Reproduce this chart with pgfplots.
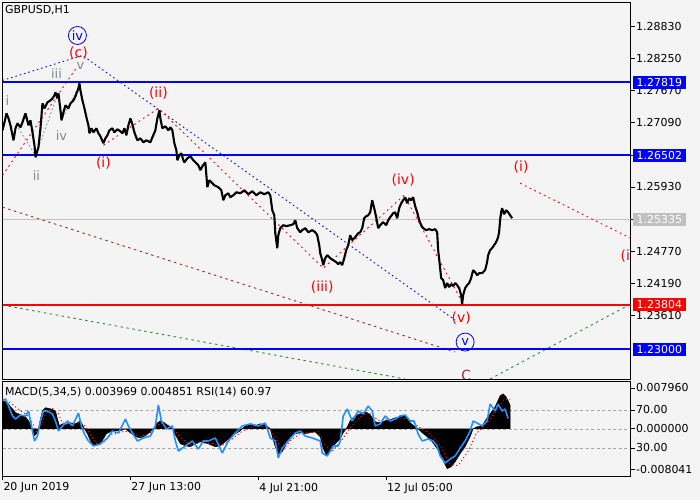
\documentclass[border=0pt]{standalone}
\usepackage{pgfplots}
\pgfplotsset{compat=1.18}
\usepackage{fontspec}
\setmainfont{DejaVu Sans}
\definecolor{bg}{HTML}{F4F4F4}
\definecolor{mtblue}{RGB}{0,0,255}
\definecolor{mtred}{RGB}{255,0,0}
\definecolor{wgray}{HTML}{7E8896}
\definecolor{brownl}{HTML}{9B2D2D}
\definecolor{greenl}{HTML}{2E8B2E}
\definecolor{rsiblue}{RGB}{30,144,255}
\definecolor{curgray}{RGB}{192,192,192}
\tikzset{
  wl/.style={text=mtred, font=\fontsize{14}{16}\selectfont, inner sep=0pt},
  gl/.style={text=wgray, font=\fontsize{13}{15}\selectfont, inner sep=0pt},
  cl/.style={circle, draw=mtblue, text=mtblue, line width=0.8bp, inner sep=0pt, minimum size=18bp, font=\fontsize{13}{15}\selectfont},
  box/.style={anchor=west, text=white, font=\fontsize{11}{13}\selectfont, inner xsep=3.5bp, inner ysep=0pt, minimum height=13bp},
}
\begin{document}
\begin{tikzpicture}
\path[fill=bg, use as bounding box] (0,0) rectangle (700bp,500bp);
% ---------------- main price panel ----------------
\begin{axis}[
  at={(2.5bp,121bp)}, anchor=south west, scale only axis,
  width=628bp, height=376.5bp,
  xmin=2, xmax=630.5, ymin=1.22458, ymax=1.29263,
  axis line style={black, line width=0.8bp},
  xtick=\empty,
  ytick={1.2883,1.2825,1.2767,1.2709,1.2651,1.2593,1.2535,1.2477,1.2419,1.2361},
  yticklabels={1.28830,1.28250,1.27670,1.27090,1.26510,1.25930,1.25350,1.24770,1.24190,1.23610},
  ytick pos=right, tick align=outside, major tick length=4bp,
  tick style={black, line width=0.6bp},
  yticklabel style={font=\fontsize{11}{13}\selectfont, inner xsep=1.5bp},
  clip=true,
]
% current price line
\addplot[curgray, line width=0.8bp] coordinates {(2,1.25335) (630.5,1.25335)};
% brown dashed
\addplot[brownl, line width=0.9bp, dash pattern=on 2.5bp off 3.5bp] coordinates {(2,1.25563) (455,1.22945)};
% green dashed
\addplot[greenl, line width=0.9bp, dash pattern=on 2.5bp off 3.5bp] coordinates {(2,1.23794) (405,1.22458)};
\addplot[greenl, line width=0.9bp, dash pattern=on 2.5bp off 3.5bp] coordinates {(490,1.22458) (630.5,1.23810)};
% blue dotted
\addplot[mtblue, line width=0.9bp, dash pattern=on 1.5bp off 3bp] coordinates {(2,1.27855) (82,1.28306) (455,1.23523)};
% red dotted wave lines
\addplot[mtred, line width=0.9bp, dash pattern=on 1.8bp off 3.5bp] coordinates {(2,1.26140) (77,1.28108)};
\addplot[mtred, line width=0.9bp, dash pattern=on 1.8bp off 3.5bp] coordinates {(103,1.26682) (158,1.27350) (323,1.24462) (404,1.25779) (462,1.23848)};
\addplot[mtred, line width=0.9bp, dash pattern=on 1.8bp off 3.5bp] coordinates {(520,1.25996) (630.5,1.25003)};
% gray dotted sub-waves
\addplot[wgray, line width=0.9bp, dash pattern=on 1.5bp off 2.5bp] coordinates {(18,1.26989) (35,1.26501) (57,1.27584) (62,1.27169) (80,1.27801)};
% level lines
\addplot[mtblue, line width=2bp] coordinates {(2,1.27819) (630.5,1.27819)};
\addplot[mtblue, line width=2bp] coordinates {(2,1.26502) (630.5,1.26502)};
\addplot[mtred, line width=2bp] coordinates {(2,1.23804) (630.5,1.23804)};
\addplot[mtblue, line width=2bp] coordinates {(2,1.23000) (630.5,1.23000)};
% price
\addplot[black, line width=2.1bp, line join=bevel] coordinates {
(2,1.26953) (4,1.27097) (6,1.27259) (8,1.27169) (10,1.27043) (13,1.26772) (15,1.26989) (17,1.27079)
(20,1.27007) (22,1.27097) (25,1.27259) (28,1.27043) (30,1.27133) (32,1.26916) (34,1.26682) (35,1.26465)
(37,1.26592) (38,1.26646) (40,1.26989) (42,1.27440) (44,1.27350) (47,1.27458) (50,1.27494) (52,1.27530)
(54,1.27584) (55,1.27638) (57,1.27530) (58,1.27620) (60,1.27314) (61,1.27133) (63,1.27277) (65,1.27404)
(68,1.27350) (70,1.27440) (73,1.27494) (75,1.27566) (76,1.27620) (78,1.27711) (79,1.27801) (80,1.27675)
(82,1.27494) (84,1.27350) (86,1.27187) (88,1.27043) (89,1.26898) (91,1.26989) (93,1.26916) (96,1.26989)
(98,1.26898) (100,1.26844) (103,1.26718) (105,1.26808) (107,1.26862) (109,1.26953) (112,1.26989) (114,1.26916)
(117,1.26971) (120,1.26934) (122,1.26898) (124,1.26989) (126,1.26862) (128,1.27043) (130,1.27169) (132,1.27061)
(134,1.26916) (137,1.26772) (140,1.26808) (143,1.26736) (146,1.26772) (150,1.26736) (152,1.26826) (155,1.26953)
(157,1.27169) (159,1.27314) (160,1.27169) (162,1.26989) (165,1.27025) (168,1.26953) (170,1.27007) (172,1.26953)
(174,1.26718) (176,1.26592) (177,1.26411) (179,1.26501) (181,1.26537) (183,1.26411) (184,1.26375) (187,1.26447)
(190,1.26483) (193,1.26411) (196,1.26357) (198,1.26321) (200,1.26231) (202,1.26303) (205,1.26375) (207,1.25924)
(209,1.26050) (211,1.26014) (214,1.25960) (218,1.25924) (221,1.25869) (223,1.25689) (225,1.25779) (228,1.25815)
(230,1.25743) (233,1.25779) (236,1.25833) (240,1.25815) (244,1.25869) (248,1.25797) (252,1.25851) (256,1.25779)
(260,1.25833) (264,1.25797) (268,1.25833) (270,1.25779) (272,1.25509) (274,1.25418) (275,1.25093) (277,1.24823)
(278,1.25057) (280,1.25184) (283,1.25238) (286,1.25220) (290,1.25238) (293,1.25256) (295,1.25328) (297,1.25184)
(300,1.25111) (302,1.25148) (305,1.25184) (308,1.25111) (312,1.25148) (315,1.25111) (317,1.25057) (319,1.24877)
(320,1.24732) (322,1.24606) (323,1.24516) (325,1.24642) (327,1.24696) (330,1.24642) (333,1.24606) (336,1.24570)
(338,1.24534) (340,1.24570) (342,1.24516) (344,1.24642) (346,1.24787) (348,1.24877) (350,1.25057) (352,1.24967)
(355,1.25021) (358,1.25093) (360,1.25111) (362,1.25184) (364,1.25364) (366,1.25400) (368,1.25418) (370,1.25472)
(372,1.25689) (374,1.25545) (376,1.25382) (378,1.25184) (380,1.25238) (383,1.25292) (386,1.25238) (388,1.25328)
(390,1.25382) (393,1.25454) (395,1.25472) (397,1.25364) (399,1.25545) (401,1.25635) (403,1.25689) (405,1.25743)
(407,1.25635) (409,1.25725) (411,1.25689) (413,1.25743) (415,1.25581) (417,1.25472) (419,1.25328) (421,1.25238)
(423,1.25184) (426,1.25148) (429,1.25166) (432,1.25148) (435,1.25166) (437,1.25111) (438,1.24787) (440,1.24462)
(441,1.24281) (443,1.24245) (445,1.24101) (447,1.24191) (449,1.24119) (451,1.24173) (453,1.24137) (455,1.24191)
(457,1.24155) (459,1.24101) (461,1.23974) (462,1.23810) (463,1.23974) (465,1.24101) (467,1.24155) (469,1.24191)
(471,1.24281) (473,1.24426) (475,1.24389) (477,1.24335) (479,1.24371) (482,1.24371) (485,1.24426) (487,1.24570)
(488,1.24696) (490,1.24787) (492,1.24823) (494,1.24877) (496,1.24931) (498,1.25021) (499,1.25111) (500,1.25328)
(501,1.25472) (502,1.25545) (504,1.25436) (506,1.25509) (508,1.25472) (510,1.25418) (512,1.25364)
};
% wave labels
\node[gl] at (axis cs:7,1.27494) {i};
\node[gl] at (axis cs:36,1.26140) {ii};
\node[gl] at (axis cs:56,1.27981) {iii};
\node[gl] at (axis cs:61,1.26862) {iv};
\node[gl] at (axis cs:80,1.28108) {v};
\node[wl] at (axis cs:78,1.28342) {(c)};
\node[cl] at (axis cs:77,1.28667) {iv};
\node[wl] at (axis cs:103,1.26357) {(i)};
\node[wl] at (axis cs:158,1.27620) {(ii)};
\node[wl] at (axis cs:322,1.24119) {(iii)};
\node[wl] at (axis cs:403,1.26050) {(iv)};
\node[wl] at (axis cs:461,1.23559) {(v)};
\node[cl] at (axis cs:465,1.23126) {v};
\node[wl, text=brownl] at (axis cs:466,1.22530) {C};
\node[wl] at (axis cs:521,1.26285) {(i)};
\node[wl] at (axis cs:628,1.24678) {(i)};
\coordinate (B1) at (axis cs:630.5,1.27819);
\coordinate (B2) at (axis cs:630.5,1.26502);
\coordinate (B3) at (axis cs:630.5,1.25335);
\coordinate (B4) at (axis cs:630.5,1.23804);
\coordinate (B5) at (axis cs:630.5,1.23000);
\end{axis}
\node[box, fill=mtblue] at ([xshift=2.5bp]B1) {1.27819};
\node[box, fill=mtblue] at ([xshift=2.5bp]B2) {1.26502};
\node[box, fill=curgray] at ([xshift=2.5bp]B3) {1.25335};
\node[box, fill=mtred] at ([xshift=2.5bp]B4) {1.23804};
\node[box, fill=mtblue] at ([xshift=2.5bp]B5) {1.23000};
\node[anchor=west, inner sep=0pt, font=\fontsize{11}{13}\selectfont] at (5bp,490bp) {GBPUSD,H1};
% ---------------- indicator panel: grid + RSI ticks ----------------
\begin{axis}[
  at={(2.5bp,23.5bp)}, anchor=south west, scale only axis,
  width=628bp, height=95bp,
  xmin=2, xmax=630.5, ymin=0, ymax=100,
  axis line style={black, line width=0.8bp},
  xtick={2,130,258,386},
  xticklabels={20 Jun 2019,27 Jun 13:00,4 Jul 21:00,12 Jul 05:00},
  xtick pos=bottom,
  xticklabel style={anchor=north west, font=\fontsize{11}{13}\selectfont, xshift=-2.5bp, inner ysep=2bp},
  ytick={30,70}, yticklabels={30.00,70.00},
  ytick pos=right, tick align=outside, major tick length=4bp,
  tick style={black, line width=0.6bp},
  yticklabel style={font=\fontsize{11}{13}\selectfont, inner xsep=1.5bp},
]
\addplot[gray!70, line width=0.6bp, dash pattern=on 3bp off 2.5bp] coordinates {(2,70) (630.5,70)};
\addplot[gray!70, line width=0.6bp, dash pattern=on 3bp off 2.5bp] coordinates {(2,50) (630.5,50)};
\addplot[gray!70, line width=0.6bp, dash pattern=on 3bp off 2.5bp] coordinates {(2,30) (630.5,30)};
\end{axis}
% ---------------- MACD ----------------
\begin{axis}[
  at={(2.5bp,23.5bp)}, anchor=south west, scale only axis,
  width=628bp, height=95bp,
  xmin=2, xmax=630.5, ymin=-0.008041, ymax=0.00796,
  scaled y ticks=false,
  axis line style={black, line width=0.8bp},
  xtick=\empty,
  ytick={0.00687,0,-0.00678}, yticklabels={0.007960,0.000000,-0.008041},
  ytick pos=right, tick align=outside, major tick length=4bp,
  tick style={black, line width=0.6bp},
  yticklabel style={font=\fontsize{11}{13}\selectfont, inner xsep=1.5bp},
]
\addplot[fill=black, draw=black, line width=0.4bp] coordinates {
(2,0) (2,0.00472) (5,0.00455) (8,0.00421) (10,0.00370) (12,0.00337) (15,0.00269) (18,0.00253) (22,0.00219)
(25,0.00202) (28,0.00135) (30,0.00084) (32,0) (34,-0.00118) (36,-0.00084) (38,0) (40,0.00168) (42,0.00303)
(45,0.00354) (50,0.00337) (55,0.00303) (57,0.00168) (59,0.00051) (62,0.00084) (66,0.00067) (70,0.00101)
(75,0.00084) (80,0.00135) (82,0.00067) (84,0) (87,-0.00084) (90,-0.00202) (93,-0.00286) (97,-0.00269)
(100,-0.00253) (103,-0.00168) (106,-0.00084) (110,-0.00051) (115,-0.00034) (120,-0.00034) (125,0)
(130,-0.00067) (135,-0.00135) (140,-0.00152) (145,-0.00118) (150,-0.00051) (153,0) (156,0.00084)
(160,0.00135) (164,0.00101) (168,0.00051) (172,0) (175,-0.00101) (180,-0.00253) (185,-0.00286)
(190,-0.00303) (195,-0.00253) (200,-0.00219) (205,-0.00236) (210,-0.00269) (215,-0.00303) (220,-0.00286)
(225,-0.00219) (230,-0.00152) (235,-0.00084) (240,-0.00034) (242,0) (245,0.00051) (250,0.00067)
(255,0.00051) (260,0.00084) (265,0.00067) (270,0) (272,-0.00135) (275,-0.00303) (278,-0.00421)
(282,-0.00387) (286,-0.00253) (290,-0.00135) (295,-0.00084) (300,-0.00067) (305,-0.00084) (310,-0.00067)
(315,-0.00051) (320,-0.00135) (323,-0.00337) (326,-0.00438) (330,-0.00387) (335,-0.00253) (340,-0.00168)
(343,-0.00067) (346,0) (350,0.00135) (355,0.00219) (360,0.00253) (365,0.00286) (370,0.00236)
(375,0.00118) (380,0.00101) (385,0.00135) (390,0.00152) (395,0.00185) (400,0.00202) (405,0.00219)
(410,0.00101) (415,0.00034) (418,0) (422,-0.00067) (427,-0.00135) (432,-0.00219) (437,-0.00337)
(442,-0.00505) (447,-0.00674) (451,-0.00640) (455,-0.00556) (460,-0.00421) (465,-0.00303) (470,-0.00135)
(473,0) (477,0.00034) (482,0.00051) (485,0.00135) (490,0.00253) (495,0.00370) (500,0.00556)
(503,0.00589) (506,0.00539) (508,0.00472) (510,0.00397) (510,0)
} -- cycle;
\addplot[mtred, line width=0.9bp, dash pattern=on 1.2bp off 2.5bp] coordinates {
(2,0.0050) (8,0.0046) (14,0.0038) (20,0.0030) (26,0.0024) (32,0.0010) (36,-0.0005) (40,0.0003)
(45,0.0025) (52,0.0034) (58,0.0025) (62,0.0010) (70,0.0008) (80,0.0011) (85,0.0004) (90,-0.0010)
(96,-0.0025) (104,-0.0022) (110,-0.0010) (125,-0.0004) (140,-0.0013) (150,-0.0007) (158,0.0007)
(164,0.0010) (172,0.0002) (180,-0.0015) (190,-0.0027) (200,-0.0024) (212,-0.0025) (222,-0.0028)
(232,-0.0017) (242,-0.0004) (255,0.0005) (268,0.0003) (276,-0.0018) (282,-0.0038) (290,-0.0020)
(300,-0.0008) (318,-0.0005) (325,-0.0028) (332,-0.0038) (342,-0.0018) (350,0.0002) (360,0.0020)
(368,0.0028) (378,0.0014) (395,0.0016) (408,0.0018) (418,0.0004) (430,-0.0009) (440,-0.0028)
(450,-0.0060) (458,-0.0062) (468,-0.0038) (476,-0.0008) (485,0.0006) (495,0.0028) (504,0.0050) (510,0.0049)
};
\end{axis}
% ---------------- RSI line ----------------
\begin{axis}[
  at={(2.5bp,23.5bp)}, anchor=south west, scale only axis,
  width=628bp, height=95bp,
  xmin=2, xmax=630.5, ymin=0, ymax=100, hide axis,
]
\addplot[rsiblue, line width=1.6bp, line join=bevel] coordinates {
(2,79.5) (5,81.6) (8,74.2) (12,63.7) (15,60.5) (20,64.7) (25,63.7) (28,68.9) (32,47.9) (34,37.4) (37,42.6)
(40,58.4) (43,68.9) (47,68.9) (52,65.8) (55,58.4) (58,47.9) (62,53.2) (67,58.4) (72,53.2) (78,66.8)
(81,53.2) (84,44.7) (88,37.4) (93,32.1) (100,34.2) (107,40.5) (112,47.9) (118,45.8) (125,60.5) (128,53.2)
(132,45.8) (137,37.4) (143,40.5) (150,42.6) (155,53.2) (158,75.3) (161,58.4) (166,50) (172,53.2) (175,37.4)
(178,26.8) (185,32.1) (192,37.4) (198,28.9) (203,37.4) (208,37.4) (215,40.5) (222,24.7) (228,37.4)
(235,45.8) (242,53.2) (250,55.3) (258,53.2) (265,56.3) (270,40.5) (275,37.4) (278,19.5) (282,30)
(288,37.4) (295,45.8) (300,47.9) (305,42.6) (312,40.5) (320,37.4) (322,24.7) (327,21.6) (333,32.1)
(338,32.1) (340,37.4) (343,63.7) (347,71.1) (352,58.4) (358,68.9) (363,65.8) (368,74.2) (372,68.9)
(375,53.2) (380,55.3) (385,63.7) (390,58.4) (395,60.5) (400,63.7) (405,64.7) (410,58.4) (414,58.4)
(418,44.7) (422,37.4) (428,39.5) (433,37.4) (437,32.1) (440,21.6) (445,14.2) (450,18.4) (455,21.6)
(460,30) (465,37.4) (470,47.9) (473,58.4) (477,56.3) (482,53.2) (487,58.4) (490,76.3) (495,68.9)
(498,76.3) (502,68.9) (505,71.1) (508,61.0)
};
\end{axis}
\node[anchor=west, inner sep=0pt, font=\fontsize{11}{13}\selectfont] at (5bp,107.5bp) {MACD(5,34,5) 0.003969 0.004851 RSI(14) 60.97};
\end{tikzpicture}
\end{document}
